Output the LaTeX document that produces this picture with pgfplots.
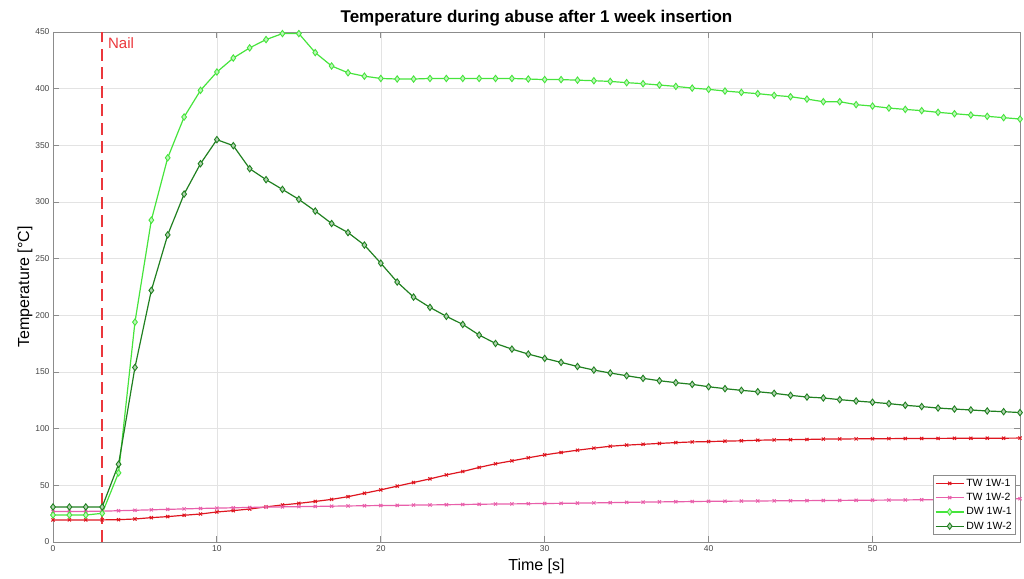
\documentclass[border=0pt]{standalone}
\usepackage{pgfplots}
\pgfplotsset{compat=1.18}
\usepackage{pgfplotstable}
\usepackage{fontspec}
\setmainfont{Liberation Sans}
\definecolor{tw1}{RGB}{222,22,32}
\definecolor{tw2}{RGB}{232,95,170}
\definecolor{dw1}{RGB}{70,228,60}
\definecolor{dw2}{RGB}{32,128,32}
\definecolor{nailc}{RGB}{235,55,60}
\definecolor{axc}{RGB}{140,140,140}
\definecolor{tickc}{RGB}{70,70,70}

\pgfplotstableread{
t TWa TWb DWa DWb
0 19.5 27.0 23.8 30.9
1 19.5 27.0 23.8 30.9
2 19.5 27.0 23.8 30.9
3 19.5 27.2 25.3 30.9
4 19.7 27.6 61.0 68.6
5 20.3 28.0 194.0 154.0
6 21.5 28.4 284.0 222.0
7 22.4 28.8 339.0 271.0
8 23.6 29.2 375.0 307.0
9 24.7 29.6 398.5 333.8
10 26.5 29.9 414.7 355.0
11 27.7 30.2 427.0 349.7
12 29.1 30.5 436.0 329.4
13 31.0 30.8 443.3 319.7
14 32.7 31.0 448.6 311.1
15 34.1 31.2 448.6 302.3
16 35.8 31.4 431.8 292.0
17 37.6 31.6 420.0 281.0
18 40.0 31.8 414.0 273.0
19 43.0 32.0 411.0 262.0
20 46.0 32.2 409.0 246.0
21 49.3 32.3 408.5 229.4
22 52.5 32.6 408.5 216.1
23 55.7 32.7 409.0 207.0
24 59.2 32.9 409.0 199.1
25 62.2 33.1 409.0 192.0
26 65.8 33.3 409.0 182.6
27 69.0 33.5 409.0 175.2
28 71.6 33.6 409.0 170.2
29 74.3 33.8 408.5 165.8
30 76.9 34.0 408.0 162.0
31 79.0 34.1 408.0 158.5
32 81.0 34.3 407.5 154.9
33 82.8 34.5 407.0 151.7
34 84.5 34.7 406.4 149.1
35 85.5 35.0 405.3 146.7
36 86.2 35.2 404.4 144.4
37 87.0 35.4 403.2 142.3
38 87.7 35.5 402.0 140.6
39 88.3 35.7 400.5 139.1
40 88.6 35.9 399.4 137.0
41 89.0 36.0 397.9 135.3
42 89.3 36.1 396.7 133.8
43 89.8 36.2 395.6 132.6
44 90.1 36.3 394.1 131.2
45 90.3 36.4 392.9 129.4
46 90.5 36.5 390.8 127.9
47 90.8 36.6 388.5 127.1
48 90.9 36.7 388.5 125.6
49 91.0 36.8 385.9 124.4
50 91.1 36.9 384.6 123.3
51 91.2 37.0 382.9 122.1
52 91.3 37.1 381.7 120.6
53 91.3 37.3 380.6 119.5
54 91.4 37.4 379.1 118.2
55 91.5 37.5 377.9 117.3
56 91.5 37.7 376.7 116.5
57 91.6 37.8 375.6 115.6
58 91.6 38.0 374.4 115.0
59 91.7 38.2 373.2 114.2
}\data

\begin{document}
\begin{tikzpicture}
\begin{axis}[
  scale only axis,
  width=967pt, height=510pt,
  xmin=0, xmax=59, ymin=0, ymax=450,
  xtick={0,10,...,50},
  ytick={0,50,...,450},
  tick align=inside,
  tick pos=both,
  major tick length=6pt,
  axis line style={axc, line width=0.9pt},
  every tick/.style={axc, line width=0.9pt},
  grid=major,
  grid style={gray!22, line width=0.6pt},
  /pgf/number format/assume math mode=true,
  tick label style={font=\fontsize{8.5}{10}\selectfont, text=tickc},
  legend style={at={(1,0)}, anchor=south east, xshift=-4pt, yshift=7pt,
    font=\fontsize{10.5}{12}\selectfont, draw=axc, line width=0.8pt,
    inner sep=2pt, row sep=1.5pt, cells={anchor=west}},
  legend cell align=left,
  legend image code/.code={\draw[mark repeat=2, mark phase=2] plot coordinates {(0pt,0pt) (14pt,0pt) (28pt,0pt)};},
  clip=false,
]
\addplot[nailc, line width=2.6pt, dash pattern=on 12pt off 6.5pt, forget plot] coordinates {(3,0) (3,450)};
\addplot[tw1, line width=1.2pt, mark=x, mark size=2.2pt, mark options={solid, line width=1pt}] table[x=t, y=TWa] {\data};
\addlegendentry{TW 1W-1}
\addplot[tw2, line width=1.2pt, mark=x, mark size=2.2pt, mark options={solid, line width=1pt}] table[x=t, y=TWb] {\data};
\addlegendentry{TW 1W-2}
\addplot[dw1, line width=1.2pt, mark=diamond*, mark size=3.2pt, mark options={solid, line width=0.9pt, fill=dw1!35}] table[x=t, y=DWa] {\data};
\addlegendentry{DW 1W-1}
\addplot[dw2, line width=1.2pt, mark=diamond*, mark size=3.2pt, mark options={solid, line width=0.9pt, fill=dw2!35}] table[x=t, y=DWb] {\data};
\addlegendentry{DW 1W-2}
\node[anchor=west, text=nailc, font=\fontsize{15}{15}\selectfont, inner sep=0pt] at (axis cs:3.35,440) {Nail};
\coordinate (bl) at (rel axis cs:0,0);
\coordinate (tr) at (rel axis cs:1,1);
\coordinate (tc) at (rel axis cs:0.5,1);
\coordinate (bc) at (rel axis cs:0.5,0);
\coordinate (lc) at (rel axis cs:0,0.5);
\end{axis}
\node[font=\bfseries\fontsize{17}{17}\selectfont] at ([yshift=14pt]tc) {Temperature during abuse after 1 week insertion};
\node[font=\fontsize{16}{16}\selectfont] at ([yshift=-24pt]bc) {Time [s]};
\node[font=\fontsize{16}{16}\selectfont, rotate=90] at ([xshift=-28pt]lc) {Temperature [°C]};
\path ([shift={(-53pt,-36pt)}]bl) rectangle ([shift={(4pt,32pt)}]tr);
\end{tikzpicture}
\end{document}
